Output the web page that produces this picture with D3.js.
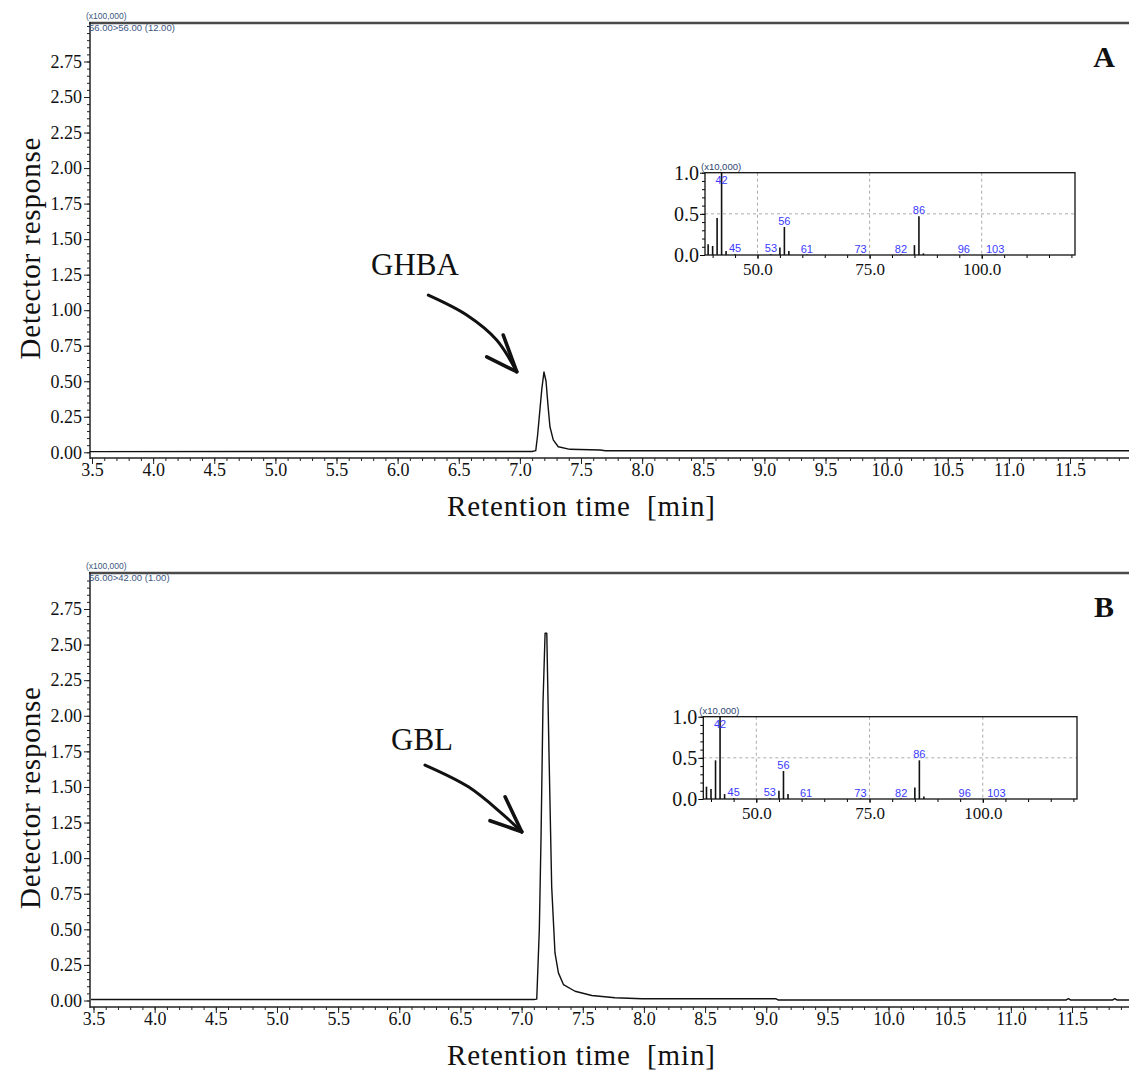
<!DOCTYPE html>
<html>
<head>
<meta charset="utf-8">
<script src="https://cdn.jsdelivr.net/npm/d3@7"></script>
<style>
  body { margin: 0; background: #fff; }
  svg { display: block; }
  .tick text { font-family: "Liberation Serif", serif; }
</style>
</head>
<body>
<div id="chart"></div>
<script>
// Chromatogram values (x100,000).
const ghbaTime = [3.48, 7.10, 7.13, 7.145, 7.164, 7.18, 7.197, 7.214, 7.23, 7.246, 7.273, 7.314, 7.41, 7.655, 7.70, 11.99];
const ghbaResponse = [0.005, 0.006, 0.012, 0.12, 0.30, 0.45, 0.565, 0.50, 0.33, 0.18, 0.087, 0.039, 0.021, 0.016, 0.011, 0.011];

const gblTime = [3.48, 7.10, 7.124, 7.145, 7.159, 7.175, 7.192, 7.206, 7.224, 7.246, 7.273, 7.301, 7.342, 7.437, 7.574, 7.764, 7.983, 9.08, 9.10, 11.45, 11.47, 11.49, 11.83, 11.85, 11.87, 11.99];
const gblResponse = [0.007, 0.007, 0.01, 0.5, 1.15, 2.09, 2.58, 2.58, 1.74, 0.80, 0.334, 0.194, 0.112, 0.065, 0.035, 0.019, 0.012, 0.012, 0.003, 0.003, 0.013, 0.003, 0.003, 0.013, 0.003, 0.003];

// Mass spectra (x10,000).
const msMz = [39, 40, 41, 42, 43, 45, 53, 55, 56, 57, 61, 73, 82, 85, 86, 87, 96, 103];
const msIntA = [0.13, 0.11, 0.45, 1.0, 0.05, 0.01, 0.01, 0.09, 0.34, 0.05, 0.006, 0.006, 0.006, 0.12, 0.47, 0.02, 0.006, 0.006];
const msIntB = [0.15, 0.12, 0.47, 1.0, 0.06, 0.01, 0.01, 0.10, 0.34, 0.06, 0.006, 0.006, 0.006, 0.14, 0.47, 0.03, 0.006, 0.006];
const msLabelled = [42, 45, 53, 56, 61, 73, 82, 86, 96, 103];

// Tick labels.
const timeTicks = d3.range(3.5, 11.51, 0.5);
const responseTicks = d3.range(0, 2.76, 0.25);
const mzTicks = [50, 75, 100];
const intTicks = [0, 0.5, 1.0];

// Arrow annotations: [time, response] from tail to tip, then the two head arms.
const arrowA = { path: [[6.251, 1.106], [6.565, 0.966], [6.81, 0.79], [6.974, 0.567]], arms: [[6.864, 0.825], [6.729, 0.672]] };
const arrowB = { path: [[6.21, 1.654], [6.565, 1.501], [6.837, 1.315], [7.001, 1.185]], arms: [[6.865, 1.431], [6.742, 1.263]] };

const panels = [
  { key: 'A', time: ghbaTime, resp: ghbaResponse, ms: msIntA, name: 'GHBA', arrow: arrowA,
    top: 23, zeroY: 452.3, y275: 61.5, axisY: 458, x0: 92, x1: 1070,
    srm: '56.00>56.00 (12.00)', label: [415, 275],
    inset: { left: 705, right: 1075, top: 172.7, bottom: 255 } },
  { key: 'B', time: gblTime, resp: gblResponse, ms: msIntB, name: 'GBL', arrow: arrowB,
    top: 573, zeroY: 1000.5, y275: 609, axisY: 1007, x0: 93.5, x1: 1072,
    srm: '56.00>42.00 (1.00)', label: [422, 750],
    inset: { left: 703.3, right: 1077, top: 716.7, bottom: 799 } }
];

const W = 1129, H = 1070;
const serif = '"Liberation Serif", serif';
const sans = '"Liberation Sans", Arial, sans-serif';

const svg = d3.select('#chart').append('svg')
  .attr('width', W).attr('height', H);

panels.forEach(p => {
  const g = svg.append('g');

  // Scales.
  const x = d3.scaleLinear().domain([3.5, 11.5]).range([p.x0, p.x1]);
  const y = d3.scaleLinear().domain([0, 2.75]).range([p.zeroY, p.y275]);
  const leftX = 90;

  // Frame: top rule.
  g.append('line')
    .attr('x1', leftX - 1).attr('x2', W).attr('y1', p.top).attr('y2', p.top)
    .attr('stroke', '#4a4a4a').attr('stroke-width', 2.5);

  // Y axis minor ticks.
  const yMinor = d3.range(0, 3.01, 0.05).filter(v => y(v) > p.top + 2);
  g.append('g')
    .attr('transform', `translate(${leftX},0)`)
    .call(d3.axisLeft(y).tickValues(yMinor).tickSize(3).tickFormat(''))
    .call(a => a.select('.domain').remove())
    .selectAll('line').attr('stroke', '#222');

  // Y axis major ticks.
  g.append('g')
    .attr('transform', `translate(${leftX},0)`)
    .call(d3.axisLeft(y).tickValues(responseTicks).tickSize(6).tickPadding(2).tickFormat(d3.format('.2f')))
    .call(a => a.select('.domain').remove())
    .call(a => a.selectAll('text').attr('font-size', 18).attr('font-family', serif).attr('fill', '#111'))
    .selectAll('line').attr('stroke', '#222');

  g.append('line')
    .attr('x1', leftX).attr('x2', leftX).attr('y1', p.top - 1).attr('y2', p.axisY + 1)
    .attr('stroke', '#222').attr('stroke-width', 1.5);

  // X axis.
  const xMinor = d3.range(3.5, 11.95, 0.1);
  const xAxisG = g.append('g').attr('transform', `translate(0,${p.axisY})`);
  xAxisG.append('g')
    .call(d3.axisBottom(x).tickValues(xMinor).tickSize(3).tickFormat(''))
    .call(a => a.select('.domain').remove())
    .selectAll('line').attr('stroke', '#222');
  xAxisG.append('g')
    .call(d3.axisBottom(x).tickValues(timeTicks).tickSize(6).tickPadding(-1).tickFormat(d3.format('.1f')))
    .call(a => a.select('.domain').remove())
    .call(a => a.selectAll('text').attr('font-size', 18).attr('font-family', serif).attr('fill', '#111'))
    .selectAll('line').attr('stroke', '#222');
  g.append('line')
    .attr('x1', leftX).attr('x2', W).attr('y1', p.axisY).attr('y2', p.axisY)
    .attr('stroke', '#222').attr('stroke-width', 1.5);

  // Scale notes at the top-left corner.
  g.append('text')
    .attr('x', 86).attr('y', p.top - 4)
    .attr('font-family', sans).attr('font-size', 8.5).attr('fill', '#3b5680')
    .text('(x100,000)');
  g.append('text')
    .attr('x', 89).attr('y', p.top + 8)
    .attr('font-family', sans).attr('font-size', 9.5).attr('fill', '#3b5680')
    .text(p.srm);

  // Chromatogram trace.
  const pts = p.time.map((t, i) => [t, p.resp[i]]);
  const line = d3.line().x(d => x(d[0])).y(d => y(d[1]));
  g.append('path')
    .datum(pts)
    .attr('d', line)
    .attr('fill', 'none')
    .attr('stroke', '#111')
    .attr('stroke-width', 1.4)
    .attr('stroke-linejoin', 'round');

  // Axis titles.
  g.append('text')
    .attr('transform', `translate(40,${(p.top + p.axisY) / 2 + 8}) rotate(-90)`)
    .attr('text-anchor', 'middle')
    .attr('font-family', serif).attr('font-size', 29).attr('fill', '#111')
    .attr('textLength', 222).attr('lengthAdjust', 'spacing')
    .text('Detector response');
  g.append('text')
    .attr('x', 581).attr('y', p.axisY + 58)
    .attr('text-anchor', 'middle')
    .attr('font-family', serif).attr('font-size', 29).attr('fill', '#111')
    .attr('xml:space', 'preserve')
    .attr('textLength', 268).attr('lengthAdjust', 'spacing')
    .text('Retention time  [min]');

  // Panel letter.
  g.append('text')
    .attr('x', 1104).attr('y', p.top + 44)
    .attr('text-anchor', 'middle')
    .attr('font-family', serif).attr('font-weight', 'bold').attr('font-size', 30).attr('fill', '#111')
    .text(p.key);

  // Peak name and arrow.
  g.append('text')
    .attr('x', p.label[0]).attr('y', p.label[1])
    .attr('text-anchor', 'middle')
    .attr('font-family', serif).attr('font-size', 31).attr('fill', '#111')
    .text(p.name);

  const curve = d3.line().x(d => x(d[0])).y(d => y(d[1])).curve(d3.curveCatmullRom);
  g.append('path')
    .attr('d', curve(p.arrow.path))
    .attr('fill', 'none').attr('stroke', '#111').attr('stroke-width', 3)
    .attr('stroke-linecap', 'round');
  const tip = p.arrow.path[p.arrow.path.length - 1];
  p.arrow.arms.forEach(a => {
    g.append('path')
      .attr('d', d3.line().x(d => x(d[0])).y(d => y(d[1]))([a, tip]))
      .attr('fill', 'none').attr('stroke', '#111').attr('stroke-width', 3.6)
      .attr('stroke-linecap', 'round');
  });

  // Mass spectrum inset.
  const r = p.inset;
  const pxPer = (r.right - r.left) / 82.5;
  const mx = d3.scaleLinear().domain([50, 100])
    .range([r.left + (50 - 38.3) * pxPer, r.left + (100 - 38.3) * pxPer]);
  const my = d3.scaleLinear().domain([0, 1]).range([r.bottom, r.top]);
  const ig = g.append('g');

  ig.append('rect')
    .attr('x', r.left).attr('y', r.top)
    .attr('width', r.right - r.left).attr('height', r.bottom - r.top)
    .attr('fill', '#fff');

  // Grid.
  ig.selectAll('.vgrid').data(mzTicks).join('line')
    .attr('class', 'vgrid')
    .attr('x1', d => mx(d)).attr('x2', d => mx(d))
    .attr('y1', r.top).attr('y2', r.bottom)
    .attr('stroke', '#aaa').attr('stroke-dasharray', '3,3');
  ig.append('line')
    .attr('x1', r.left).attr('x2', r.right)
    .attr('y1', my(0.5)).attr('y2', my(0.5))
    .attr('stroke', '#aaa').attr('stroke-dasharray', '3,3');

  // Bars.
  const ms = msMz.map((m, i) => ({ mz: m, v: p.ms[i] }));
  ig.selectAll('.msbar').data(ms).join('line')
    .attr('class', 'msbar')
    .attr('x1', d => mx(d.mz)).attr('x2', d => mx(d.mz))
    .attr('y1', r.bottom).attr('y2', d => my(d.v))
    .attr('stroke', '#111').attr('stroke-width', 1.6);

  ig.selectAll('.mslab').data(ms.filter(d => msLabelled.includes(d.mz))).join('text')
    .attr('class', 'mslab')
    .attr('x', d => mx(d.mz))
    .attr('y', d => Math.max(r.top + 11, my(d.v) - 2))
    .attr('text-anchor', 'middle')
    .attr('font-family', sans).attr('font-size', 11).attr('fill', '#3a3aff')
    .text(d => d.mz);

  // Inset axes.
  const iyMinor = d3.range(0, 1.01, 0.1);
  ig.append('g')
    .attr('transform', `translate(${r.left},0)`)
    .call(d3.axisLeft(my).tickValues(iyMinor).tickSize(3).tickFormat(''))
    .call(a => a.select('.domain').remove());
  ig.append('g')
    .attr('transform', `translate(${r.left},0)`)
    .call(d3.axisLeft(my).tickValues(intTicks).tickSize(5).tickPadding(1).tickFormat(d3.format('.1f')))
    .call(a => a.select('.domain').remove())
    .call(a => a.selectAll('text').attr('font-size', 20).attr('font-family', serif).attr('fill', '#111'));

  const ixMinor = d3.range(40, 121, 5);
  ig.append('g')
    .attr('transform', `translate(0,${r.bottom})`)
    .call(d3.axisBottom(mx).tickValues(ixMinor).tickSize(3).tickFormat(''))
    .call(a => a.select('.domain').remove());
  ig.append('g')
    .attr('transform', `translate(0,${r.bottom})`)
    .call(d3.axisBottom(mx).tickValues(mzTicks).tickSize(4).tickPadding(4).tickFormat(d3.format('.1f')))
    .call(a => a.select('.domain').remove())
    .call(a => a.selectAll('text').attr('font-size', 17).attr('font-family', serif).attr('fill', '#111'));

  ig.append('rect')
    .attr('x', r.left).attr('y', r.top)
    .attr('width', r.right - r.left).attr('height', r.bottom - r.top)
    .attr('fill', 'none').attr('stroke', '#111').attr('stroke-width', 1.3);

  ig.append('text')
    .attr('x', r.left - 4).attr('y', r.top - 3)
    .attr('font-family', sans).attr('font-size', 9.5).attr('fill', '#2d4670')
    .text('(x10,000)');
});
</script>
</body>
</html>
